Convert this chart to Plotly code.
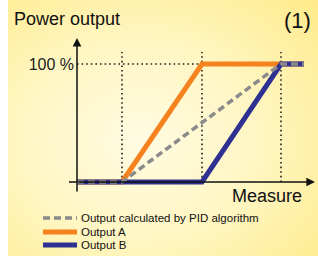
import base64
import plotly.graph_objects as go

# ---- data ----
measure = [0, 45, 125, 204, 227]
output_a = [0, 0, 100, 100, 100]
output_b = [0, 0, 0, 100, 100]
pid_measure = [0, 45, 204, 227]
pid_output = [0, 0, 100, 100]
guide_x = [45, 125, 204]
y_ticks = [100]
y_ticktext = ["100 %"]
legend_names = ["Output calculated by PID algorithm", "Output A", "Output B"]

W, H = 318, 256
X0, Y0, YS = 77, 182, 1.18  # origin pixel and px per %

def py(v):
    return (Y0 - v) / YS

ORANGE = "#F5821F"
BLUE = "#2E3192"
GRAY = "#8A8A8A"
FONT = "Liberation Sans, Arial, sans-serif"

svg = (
    "<svg xmlns='http://www.w3.org/2000/svg' width='310' height='256'>"
    "<defs><radialGradient id='g' cx='0.42' cy='0.55' r='0.78'>"
    "<stop offset='0' stop-color='#FFFBE2'/>"
    "<stop offset='0.5' stop-color='#FFF6C2'/>"
    "<stop offset='1' stop-color='#FFEB8C'/>"
    "</radialGradient></defs>"
    "<rect width='310' height='256' fill='url(#g)'/></svg>"
)
src = "data:image/svg+xml;base64," + base64.b64encode(svg.encode()).decode()

fig = go.Figure()
fig.add_trace(go.Scatter(x=measure, y=output_a, mode="lines", name=legend_names[1],
                         line=dict(color=ORANGE, width=5), showlegend=False))
fig.add_trace(go.Scatter(x=measure, y=output_b, mode="lines", name=legend_names[2],
                         line=dict(color=BLUE, width=5), showlegend=False))
fig.add_trace(go.Scatter(x=pid_measure, y=pid_output, mode="lines", name=legend_names[0],
                         line=dict(color=GRAY, width=3.5, dash="7px,4px"), showlegend=False))

shapes = []
dot = dict(color="#222222", width=1.6, dash="1.6px,3px")
for gx in guide_x:
    shapes.append(dict(type="line", xref="x", yref="y", x0=gx, x1=gx, y0=0, y1=py(52),
                       line=dot, layer="below"))
shapes.append(dict(type="line", xref="x", yref="y", x0=0, x1=guide_x[-1], y0=100, y1=100,
                   line=dot, layer="below"))
# small tick at origin
shapes.append(dict(type="line", xref="x", yref="y", x0=-8, x1=0, y0=0, y1=0,
                   line=dict(color="#111111", width=1.5)))
# legend samples
leg_y = [218, 232, 245]
leg_styles = [dict(color=GRAY, width=3.5, dash="7px,4px"),
              dict(color=ORANGE, width=5),
              dict(color=BLUE, width=5)]
for ly, st in zip(leg_y, leg_styles):
    shapes.append(dict(type="line", xref="paper", yref="paper", x0=43 / W, x1=77 / W,
                       y0=1 - ly / H, y1=1 - ly / H, line=st))

annotations = []
# y axis arrow
annotations.append(dict(x=0, y=py(38), ax=0, ay=py(193), xref="x", yref="y", axref="x", ayref="y",
                        text="", showarrow=True, arrowhead=2, arrowsize=1.15, arrowwidth=1.5,
                        arrowcolor="#111111"))
# x axis arrow
annotations.append(dict(x=315 - X0, y=0, ax=0, ay=0, xref="x", yref="y", axref="x", ayref="y",
                        text="", showarrow=True, arrowhead=2, arrowsize=1.15, arrowwidth=1.5,
                        arrowcolor="#111111"))
for ly, name in zip(leg_y, legend_names):
    annotations.append(dict(x=79 / W, y=1 - ly / H, xref="paper", yref="paper", text=name,
                            showarrow=False, xanchor="left", yanchor="middle",
                            font=dict(family=FONT, size=11.5, color="#111111")))
annotations.append(dict(x=12 / W, y=1 - 19 / H, xref="paper", yref="paper", text="Power output",
                        showarrow=False, xanchor="left", yanchor="middle",
                        font=dict(family=FONT, size=18, color="#111111")))
annotations.append(dict(x=313 / W, y=1 - 20 / H, xref="paper", yref="paper", text="(1)",
                        showarrow=False, xanchor="right", yanchor="middle",
                        font=dict(family=FONT, size=22, color="#111111")))
annotations.append(dict(x=304 / W, y=1 - 196 / H, xref="paper", yref="paper", text="Measure",
                        showarrow=False, xanchor="right", yanchor="middle",
                        font=dict(family=FONT, size=18, color="#111111")))

fig.update_layout(
    width=W, height=H,
    margin=dict(l=0, r=0, t=0, b=0),
    paper_bgcolor="white",
    plot_bgcolor="rgba(0,0,0,0)",
    showlegend=False,
    xaxis=dict(range=[-X0, W - X0], visible=False, fixedrange=True),
    yaxis=dict(range=[py(H), py(0)], anchor="free", position=X0 / W,
               tickvals=y_ticks, ticktext=y_ticktext, ticks="", showgrid=False,
               zeroline=False, showline=False, ticklabelstandoff=3,
               tickfont=dict(family=FONT, size=16, color="#222222"), fixedrange=True),
    shapes=shapes,
    annotations=annotations,
    images=[dict(source=src, xref="paper", yref="paper", x=8 / W, y=1, sizex=1 - 8 / W, sizey=1,
                 xanchor="left", yanchor="top", sizing="stretch", layer="below")],
)

fig.write_html(
    "out.html",
    config={"displayModeBar": False},
    post_script="document.body.style.margin='0';document.body.style.overflow='hidden';",
)
